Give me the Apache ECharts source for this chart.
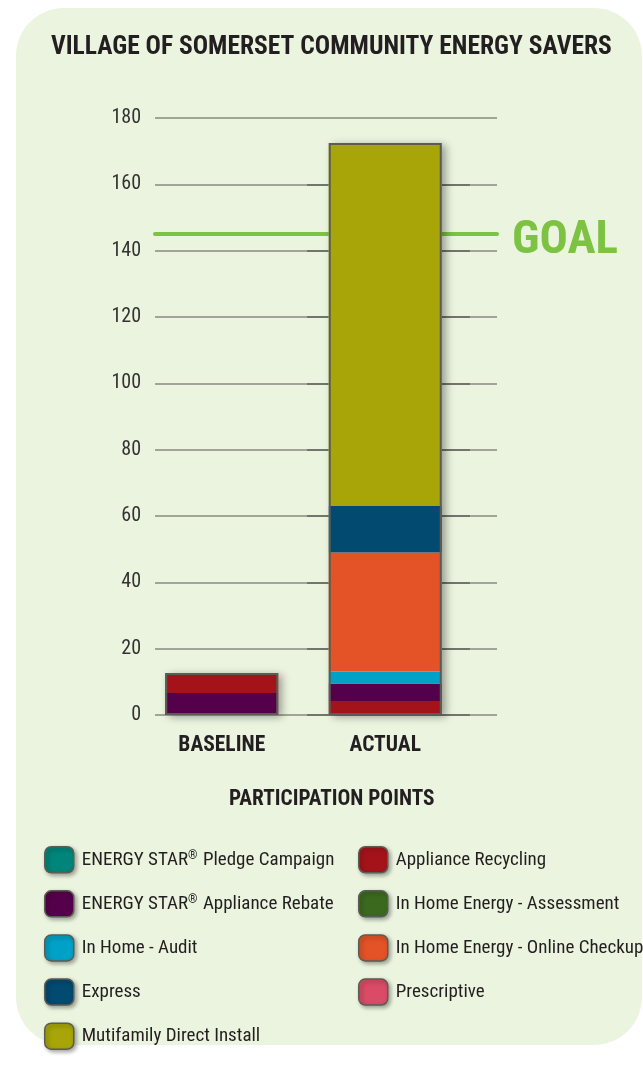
<!DOCTYPE html>
<html>
<head>
<meta charset="utf-8">
<script src="https://cdn.jsdelivr.net/npm/echarts@6/dist/echarts.min.js"></script>
<style>
  html, body { margin: 0; padding: 0; background: #ffffff; }
  #panel { position: absolute; left: 16px; top: 8px; width: 626px; height: 1037px;
           background: #ebf4df; border-radius: 48px; }
  #chart { position: absolute; left: 0; top: 0; width: 643px; height: 1067px; }
</style>
</head>
<body>
<div id="panel"></div>
<div id="chart"></div>
<script>
// ---- data ----
const categories = ['BASELINE', 'ACTUAL'];
const pledgeCampaign   = [0, 0];
const applianceRebate  = [6.6, 5.3];
const applianceRecycle = [6.1, 4.2];
const inHomeAudit      = [0, 3.6];
const onlineCheckup    = [0, 35.9];
const express          = [0, 14.0];
const multifamily      = [0, 109.5];
const homeAssessment   = [0, 0];
const prescriptive     = [0, 0];
const goalValue = 145;
const yMin = 0, yMax = 180, yStep = 20;

const NAMES = {
  pledge: 'ENERGY STAR® Pledge Campaign',
  rebate: 'ENERGY STAR® Appliance Rebate',
  audit: 'In Home - Audit',
  express: 'Express',
  multi: 'Mutifamily Direct Install',
  recycle: 'Appliance Recycling',
  assess: 'In Home Energy - Assessment',
  checkup: 'In Home Energy - Online Checkup',
  prescr: 'Prescriptive'
};
const COLORS = {
  pledge: '#00857a', rebate: '#55004b', audit: '#00a1c7', express: '#034a70',
  multi: '#a7a507', recycle: '#a5131a', assess: '#3b6a1f', checkup: '#e35327', prescr: '#d94b66'
};

const FONT = "'Roboto Condensed', 'Liberation Sans Narrow', 'DejaVu Sans Condensed', sans-serif";
const nz = arr => arr.map(v => (v === 0 || v == null) ? '-' : v);
const only = (arr, idx) => arr.map((v, i) => i === idx ? v : 0);

const totals = categories.map((_, i) =>
  pledgeCampaign[i] + applianceRebate[i] + applianceRecycle[i] + inHomeAudit[i] +
  onlineCheckup[i] + express[i] + multifamily[i] + homeAssessment[i] + prescriptive[i]);

function barSeries(key, data) {
  return {
    type: 'bar', name: NAMES[key], stack: 'total', xAxisIndex: 1, yAxisIndex: 1,
    barWidth: 113, barGap: '-100%', z: 3,
    itemStyle: { color: COLORS[key] },
    data: nz(data)
  };
}

const series = [
  {
    type: 'line', name: 'GOAL', xAxisIndex: 0, yAxisIndex: 0, z: 1,
    symbol: 'none', silent: true,
    lineStyle: { color: '#7dc242', width: 4, cap: 'round' },
    endLabel: { show: true, formatter: 'GOAL', distance: 15, offset: [0, 7], color: '#7dc242',
                fontSize: 47, fontWeight: 'bold', fontFamily: FONT },
    data: [[0, goalValue], [1, goalValue]]
  },
  {
    type: 'bar', name: '_shadow', xAxisIndex: 1, yAxisIndex: 1, z: 2,
    barWidth: 113, barGap: '-100%', silent: true,
    itemStyle: { color: '#ebf4df', shadowBlur: 8, shadowColor: 'rgba(0,0,0,0.35)', shadowOffsetX: 4, shadowOffsetY: 2 },
    data: totals
  },
  barSeries('recycle', only(applianceRecycle, 1)),
  barSeries('rebate', applianceRebate),
  barSeries('recycle', only(applianceRecycle, 0)),
  barSeries('pledge', pledgeCampaign),
  barSeries('audit', inHomeAudit),
  barSeries('assess', homeAssessment),
  barSeries('checkup', onlineCheckup),
  barSeries('prescr', prescriptive),
  barSeries('express', express),
  barSeries('multi', multifamily),
  {
    type: 'bar', name: '_outline', xAxisIndex: 1, yAxisIndex: 1, z: 5,
    barWidth: 113, barGap: '-100%', silent: true,
    itemStyle: { color: 'rgba(0,0,0,0)', borderColor: '#5b5c53', borderWidth: 2 },
    data: totals
  }
];

const legendCommon = {
  orient: 'vertical', icon: 'roundRect', itemWidth: 29, itemHeight: 26, itemGap: 16.6,
  selectedMode: false,
  formatter: name => name.replace('®', '{s|®}'),
  textStyle: { fontFamily: FONT, fontSize: 19, color: '#231f20', padding: [0, 0, 0, 3],
    rich: { s: { fontFamily: FONT, fontSize: 12, color: '#231f20', verticalAlign: 'top', padding: [0, 1, 0, 0] } } },
  itemStyle: { borderColor: '#5b5c53', borderWidth: 1.5, shadowBlur: 4, shadowColor: 'rgba(0,0,0,0.35)', shadowOffsetX: 2, shadowOffsetY: 2 }
};

// tick-region grid (darker gridline segments next to the tall bar), 0..160
const tickTop = 118 + 597 * (yMax - 160) / (yMax - yMin);

const option = {
  animation: false,
  backgroundColor: 'transparent',
  title: [
    { text: 'VILLAGE OF SOMERSET COMMUNITY ENERGY SAVERS', left: 46, top: 30,
      textStyle: { fontFamily: FONT, fontSize: 25.5, fontWeight: 'bold', color: '#231f20' } },
    { text: 'PARTICIPATION POINTS', left: 224, top: 784,
      textStyle: { fontFamily: FONT, fontSize: 21.3, fontWeight: 'bold', color: '#231f20' } }
  ],
  grid: [
    { left: 155, width: 342, top: 118, height: 597 },
    { left: 140, width: 327, top: 118, height: 597 },
    { left: 307, width: 163, top: tickTop, height: 715 - tickTop }
  ],
  xAxis: [
    { type: 'value', gridIndex: 0, min: 0, max: 1, show: false },
    { type: 'category', gridIndex: 1, data: categories,
      axisLine: { show: false }, axisTick: { show: false },
      axisLabel: { margin: 20, fontFamily: FONT, fontSize: 21.5, fontWeight: 'bold', color: '#231f20' } },
    { type: 'value', gridIndex: 2, min: 0, max: 1, show: false }
  ],
  yAxis: [
    { type: 'value', gridIndex: 0, min: yMin, max: yMax, interval: yStep,
      axisLine: { show: false }, axisTick: { show: false },
      axisLabel: { margin: 14, fontFamily: FONT, fontSize: 20, color: '#333333' },
      splitLine: { lineStyle: { color: '#888a80', width: 1.5 } } },
    { type: 'value', gridIndex: 1, min: yMin, max: yMax, interval: yStep, show: false,
      splitLine: { show: false } },
    { type: 'value', gridIndex: 2, min: yMin, max: 160, interval: yStep,
      axisLine: { show: false }, axisTick: { show: false }, axisLabel: { show: false },
      splitLine: { lineStyle: { color: '#63655c', width: 1.6 } } }
  ],
  legend: [
    Object.assign({}, legendCommon, { left: 39, top: 841,
      data: [NAMES.pledge, NAMES.rebate, NAMES.audit, NAMES.express, NAMES.multi] }),
    Object.assign({}, legendCommon, { left: 353, top: 841,
      data: [NAMES.recycle, NAMES.assess, NAMES.checkup, NAMES.prescr] })
  ],
  series: series
};

const chart = echarts.init(document.getElementById('chart'), null, { renderer: 'canvas' });
chart.setOption(option);
</script>
</body>
</html>
